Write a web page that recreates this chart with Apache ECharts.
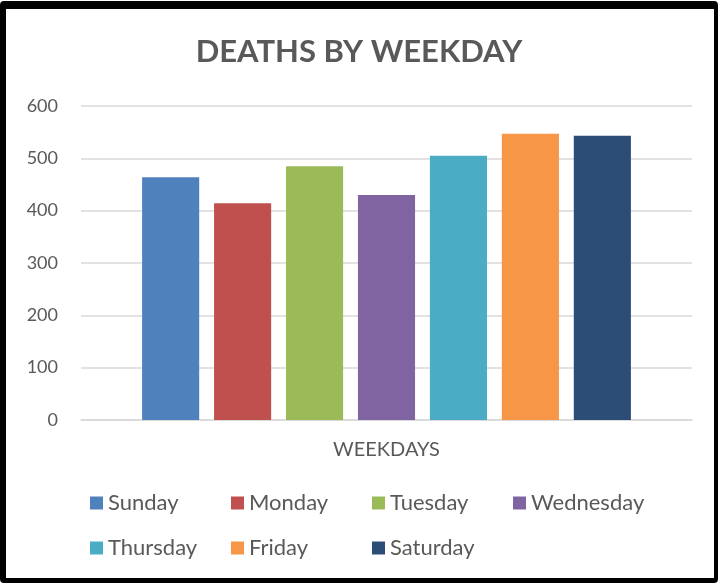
<!DOCTYPE html>
<html>
<head>
<meta charset="utf-8">
<script src="https://cdn.jsdelivr.net/npm/echarts@6/dist/echarts.min.js"></script>
<style>
  html, body { margin: 0; padding: 0; background: #fff; }
  #chart { position: absolute; left: 0; top: 0; width: 718px; height: 583px; }
  #frame {
    position: absolute; left: 0; top: 1px; width: 718px; height: 582px;
    box-sizing: border-box;
    border-style: solid; border-color: #000;
    border-width: 8px 4px 5px 6px;
    border-radius: 4px;
    pointer-events: none;
  }
</style>
</head>
<body>
<div id="chart"></div>
<div id="frame"></div>
<script>
  var weekdays = ['Sunday', 'Monday', 'Tuesday', 'Wednesday', 'Thursday', 'Friday', 'Saturday'];
  var deaths = [464, 414, 485, 430, 505, 547, 543];
  var colors = ['#4f81bd', '#c0504d', '#9bbb59', '#8064a2', '#4bacc6', '#f79646', '#2c4d75'];
  var category = ['WEEKDAYS'];

  var font = 'Lato, "Open Sans", sans-serif';
  var textColor = '#595959';

  var series = [];
  var legends = [];
  for (var i = 0; i < weekdays.length; i++) {
    series.push({
      name: weekdays[i],
      type: 'bar',
      barGap: '26%',
      barCategoryGap: '20%',
      itemStyle: { color: colors[i] },
      data: [deaths[i]]
    });
    // legend laid out as a 4-column grid, like the original
    var row = i < 4 ? 0 : 1;
    var col = i % 4;
    legends.push({
      data: [weekdays[i]],
      left: 90 + col * 141,
      top: 492 + row * 45,
      padding: 0,
      icon: 'rect',
      itemWidth: 13,
      itemHeight: 13,
      selectedMode: false,
      textStyle: { fontFamily: font, fontSize: 22, color: textColor }
    });
  }

  var chart = echarts.init(document.getElementById('chart'));
  chart.setOption({
    animation: false,
    title: {
      text: 'DEATHS BY WEEKDAY',
      left: 'center',
      top: 31,
      textStyle: { fontFamily: font, fontSize: 31, fontWeight: 'bold', color: textColor }
    },
    legend: legends,
    grid: { left: 81, right: 26, top: 106, bottom: 163 },
    xAxis: {
      type: 'category',
      data: category,
      axisLine: { lineStyle: { color: '#d9d9d9', width: 1.5 } },
      axisTick: { show: false },
      axisLabel: { fontFamily: font, fontSize: 20, color: textColor, margin: 20 }
    },
    yAxis: {
      type: 'value',
      min: 0,
      max: 600,
      interval: 100,
      axisLine: { show: false },
      axisTick: { show: false },
      splitLine: { lineStyle: { color: '#d9d9d9', width: 1.5 } },
      axisLabel: { fontFamily: font, fontSize: 18, color: textColor, margin: 23 }
    },
    series: series
  });
</script>
</body>
</html>
